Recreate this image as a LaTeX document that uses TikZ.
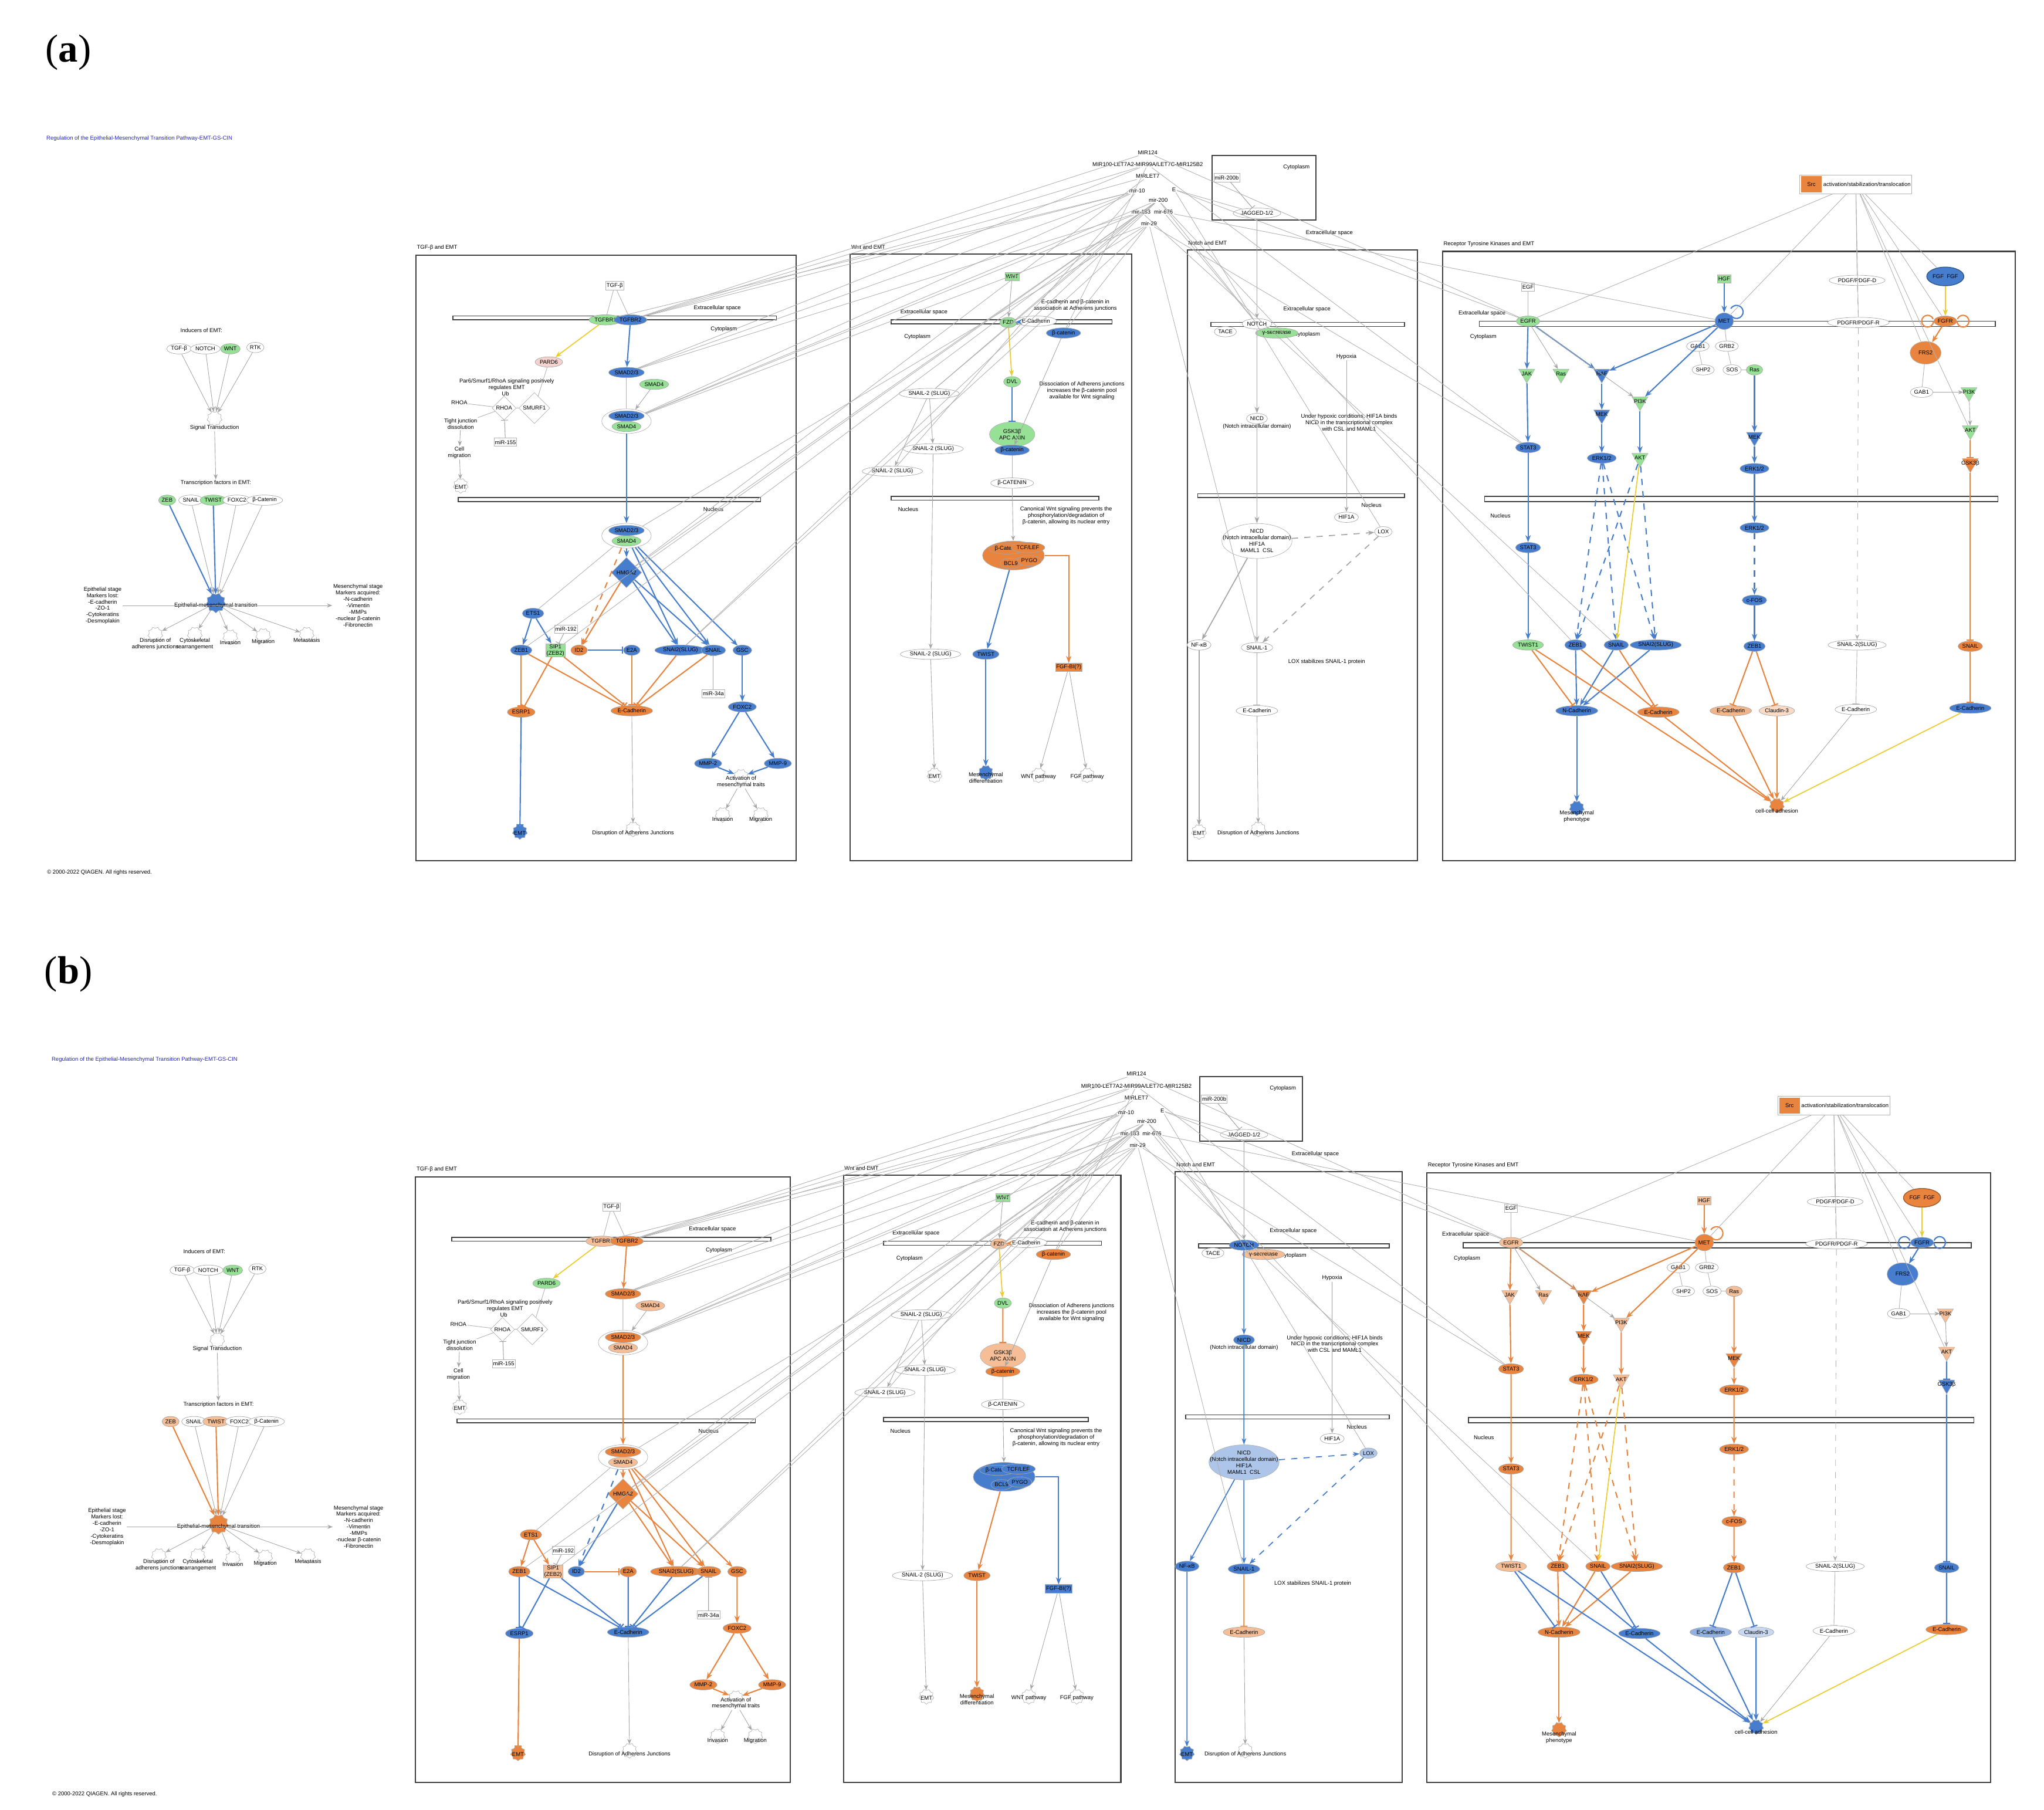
\documentclass[tikz,border=0pt]{standalone}
\usepackage{fontspec}
\setmainfont{Liberation Sans}
\newfontfamily\serifb{Liberation Serif}
\usetikzlibrary{shapes.geometric,arrows.meta}
\definecolor{bl}{RGB}{70,125,205}
\definecolor{or}{RGB}{232,132,62}
\definecolor{gr}{RGB}{150,225,150}
\definecolor{pk}{RGB}{245,210,205}
\definecolor{lbl}{RGB}{150,185,235}
\definecolor{lor}{RGB}{245,190,150}
\definecolor{yl}{RGB}{235,205,50}
\definecolor{ttlc}{RGB}{40,40,200}
\newcommand\ft{\fontsize{2.7}{3.1}\selectfont}
\tikzset{
 n/.style={ellipse,draw=gray!70,line width=.2pt,inner sep=.3pt,minimum width=8pt,minimum height=5pt,font=\ft,fill=white},
 fn/.style={star,star points=9,star point ratio=.82,draw=gray!60,line width=.2pt,inner sep=0pt,minimum size=6pt,fill=white},
 mi/.style={rectangle,draw=gray!60,line width=.2pt,inner sep=.4pt,minimum width=6pt,minimum height=4pt,font=\ft,fill=white},
 tri/.style={regular polygon,regular polygon sides=3,shape border rotate=180,draw=gray!60,line width=.2pt,inner sep=0pt,minimum size=9pt,label={[font=\ft,inner sep=0pt]center:#1}},
 t/.style={font=\ft,inner sep=.3pt,align=center},
 ttl/.style={font=\ft,text=ttlc,inner sep=0pt},
 box/.style={draw=gray!50!black,line width=.6pt},
 bar/.style={draw=gray!50!black,line width=.45pt,fill=white},
 e/.style={draw=gray!70,line width=.25pt,-{Stealth[length=.9mm,width=.7mm]}},
 g/.style={draw=gray!60,line width=.25pt},
 ep/.style={draw=\cP,line width=.6pt,-{Stealth[length=1.2mm,width=.9mm]}},
 es/.style={draw=\cS,line width=.6pt,-{Stealth[length=1.2mm,width=.9mm]}},
 ip/.style={draw=\cP,line width=.6pt,-{Bar[width=1.2mm]}},
 is/.style={draw=\cS,line width=.6pt,-{Bar[width=1.2mm]}},
 ig/.style={draw=gray!70,line width=.3pt,-{Bar[width=1.2mm]}},
 en/.style={draw=\cNe,line width=.5pt,-{Stealth[length=1.1mm,width=.8mm]}},
 yel/.style={draw=yl,line width=.5pt,-{Stealth[length=1.1mm,width=.8mm]}},
}
\newcommand\drawpanel{%
% ---------- header
\node[ttl,anchor=west] (title) at (35,105) {Regulation of the Epithelial-Mesenchymal Transition Pathway-EMT-GS-CIN};
\node[t,anchor=west] (copy) at (35,663) {\textcopyright{} 2000-2022 QIAGEN. All rights reserved.};
% ---------- left overview
\node[t] (ind) at (153,251) {Inducers of EMT:};
\node[n] (lTGF) at (136,265) {TGF-β};
\node[n] (lNOT) at (156,265) {NOTCH};
\node[n,fill=gr] (lWNT) at (175,265) {WNT};
\node[n] (lRTK) at (194,264) {RTK};
\node[fn] (sig) at (163,318) {};
\node[t] (sigt) at (163,325) {Signal Transduction};
\foreach \s in {lTGF,lNOT,lWNT,lRTK} \draw[e] (\s) -- (sig);
\node[t] (tf) at (164,367) {Transcription factors in EMT:};
\draw[e] (sigt) -- (tf);
\node[n,fill=\cG] (lZEB) at (127,380) {ZEB};
\node[n] (lSNA) at (145,380) {SNAIL};
\node[n,fill=\cG] (lTWI) at (162,380) {TWIST};
\node[n] (lFOX) at (180,380) {FOXC2};
\node[n] (lBC) at (201,380) {β-Catenin};
\node[fn,fill=\cP,minimum size=8pt] (emt) at (164,458) {};
\node[t] (emtt) at (164,460) {Epithelial-mesenchymal transition};
\draw[ep] (lZEB) -- (emt); \draw[ep] (lTWI) -- (emt);
\draw[e] (lSNA) -- (emt); \draw[e] (lFOX) -- (emt); \draw[e] (lBC) -- (emt);
\node[t] (epi) at (78,460) {Epithelial stage\\Markers lost:\\-E-cadherin\\-ZO-1\\-Cytokeratins\\-Desmoplakin};
\node[t] (mes) at (272,460) {Mesenchymal stage\\Markers acquired:\\-N-cadherin\\-Vimentin\\-MMPs\\-nuclear β-catenin\\-Fibronectin};
\draw[e] (epi.east) -- (mes.west);
\foreach \nm/\x/\y/\tx in {f1/118/482/{Disruption of\\adherens junctions},f2/148/482/{Cytoskeletal\\rearrangement},f3/175/484/Invasion,f4/200/483/Migration,f5/233/482/Metastasis}{
 \node[fn] (\nm) at (\x,\y) {};
 \node[t,anchor=north] (\nm t) at (\x,\y+2) {\tx};
 \draw[e] (emt) -- (\nm);}
% ---------- micro RNA hub
\node[t] (m124) at (872,116) {MIR124};
\node[t] (mlet) at (872,125) {MIR100-LET7A2-MIR99A/LET7C-MIR125B2};
\node[t] (mlt7) at (872,134) {MIRLET7};
\node[t] (m10) at (864,145) {mir-10};
\node[t] (m200) at (880,152) {mir-200};
\node[t] (m183) at (867,161) {mir-183};
\node[t] (m676) at (884,161) {mir-676};
\node[t] (m29) at (873,170) {mir-29};
\node[t] (mE) at (892,144) {E};
% ---------- TGF box
\draw[box] (316,194) rectangle (605,654);
\node[t,anchor=south west] (tgfT) at (316,191) {TGF-β and EMT};
\draw[bar] (344,240) rectangle (590,243);
\draw[bar] (348,378) rectangle (578,381);
\node[t] (tEx) at (545,234) {Extracellular space};
\node[t] (tCy) at (550,250) {Cytoplasm};
\node[t] (tNu) at (542,387) {Nucleus};
\node[mi] (tTGF) at (467,217) {TGF-β};
\node[n,fill=\cG] (tR1) at (460,243) {TGFBR1};
\node[n,fill=\cP] (tR2) at (479,243) {TGFBR2};
\draw[g] (tTGF) -- (tR1); \draw[g] (tTGF) -- (tR2);
\node[n,fill=\cH] (tPAR) at (417,275) {PARD6};
\draw[yel] (tR1) -- (tPAR);
\node[t] (tPtx) at (385,292) {Par6/Smurf1/RhoA signaling positively\\regulates EMT};
\node[t] (tRHO) at (349,306) {RHOA};
\node[diamond,draw=gray!60,line width=.2pt,inner sep=.5pt,font=\ft,fill=white] (tRH2) at (383,310) {RHOA};
\node[t] (tUb) at (384,299) {Ub};
\node[diamond,draw=gray!60,line width=.2pt,inner sep=.5pt,font=\ft,fill=white] (tSMU) at (406,310) {SMURF1};
\draw[g] (tPAR) -- (tSMU); \draw[g] (tSMU) -- (tRH2); \draw[g] (tRH2) -- (tRHO);
\node[mi] (t155) at (384,336) {miR-155};
\draw[ig] (t155) -- (tRH2);
\node[t] (tTJ) at (350,322) {Tight junction\\dissolution};
\draw[g] (tRH2) -- (tTJ);
\node[t] (tCM) at (349,344) {Cell\\migration};
\node[fn] (tEMT0) at (350,369) {};
\node[t] (tEMT0t) at (350,370) {EMT};
\draw[e] (tTJ) -- (tCM); \draw[e] (tCM) -- (tEMT0);
\node[n,fill=\cP] (tS23) at (476,283) {SMAD2/3};
\node[n,fill=\cG] (tS4) at (497,292) {SMAD4};
\node[ellipse,draw=gray!60,line width=.2pt,minimum width=24pt,minimum height=12pt,fill=white] (tSc) at (476,320) {};
\node[n,fill=\cP] (tSc1) at (476,316) {SMAD2/3};
\node[n,fill=\cG] (tSc2) at (476,324) {SMAD4};
\draw[ep] (tR2) -- (tS23);
\draw[g] (tS23) -- (tSc); \draw[e] (tS4) -- (tSc);
\node[ellipse,draw=gray!60,line width=.2pt,minimum width=24pt,minimum height=12pt,fill=white] (tSn) at (476,407) {};
\node[n,fill=\cP] (tSn1) at (476,403) {SMAD2/3};
\node[n,fill=\cG] (tSn2) at (476,411) {SMAD4};
\draw[ep] (tSc) -- (tSn);
\node[diamond,draw=gray!60,line width=.2pt,inner sep=.8pt,font=\ft,fill=\cP] (tHM) at (476,435) {HMGA2};
\draw[ep] (tSn) -- (tHM);
\node[n,fill=\cP] (tETS) at (405,466) {ETS1};
\node[n,fill=\cP] (tZ1) at (396,494) {ZEB1};
\node[rectangle,draw=gray!60,line width=.2pt,inner sep=.4pt,font=\ft,fill=\cG,align=center] (tSIP) at (422,494) {SIP1\\(ZEB2)};
\node[mi] (t192) at (430,478) {miR-192};
\node[n,fill=\cS] (tID2) at (440,494) {ID2};
\node[n,fill=\cP] (tE2A) at (480,494) {E2A};
\node[n,fill=\cP] (tSN2) at (517,494) {SNAI2\\(SLUG)};
\node[n,fill=\cP] (tSNA) at (542,494) {SNAIL};
\node[n,fill=\cP] (tGSC) at (564,494) {GSC};
\node[mi] (t34) at (542,527) {miR-34a};
\node[n,fill=\cP] (tFOX) at (564,537) {FOXC2};
\node[n,fill=\cS] (tESR) at (396,541) {ESRP1};
\node[n,fill=\cS] (tECA) at (480,540) {E-Cadherin};
\draw[g] (tSn) -- (tETS);
\draw[ep] (tETS) -- (tZ1); \draw[ep] (tETS) -- (tSIP);
\draw[ig] (t192) -- (tSIP);
\draw[es,dashed] (tSn) -- (tID2); \draw[es] (tHM) -- (tID2);
\draw[ip] (tID2) -- (tE2A);
\draw[ep] (tHM) -- (tSN2); \draw[ep] (tHM) -- (tSNA);
\draw[ep] (tSn) -- (tSN2); \draw[ep] (tSn) -- (tSNA); \draw[ep] (tSn) -- (tGSC);
\draw[ig] (t34) -- (tSNA);
\draw[ep] (tGSC) -- (tFOX);
\draw[is] (tZ1) -- (tESR); \draw[is] (tSIP) -- (tESR);
\foreach \s in {tZ1,tSIP,tE2A,tSN2,tSNA} \draw[is] (\s) -- (tECA);
\node[n,fill=\cP] (tMM2) at (538,580) {MMP-2};
\node[n,fill=\cP] (tMM9) at (591,580) {MMP-9};
\draw[ep] (tFOX) -- (tMM2); \draw[ep] (tFOX) -- (tMM9);
\node[fn] (tACT) at (563,590) {};
\node[t] (tACTt) at (563,594) {Activation of\\mesenchymal traits};
\draw[ep] (tMM2) -- (tACT); \draw[ep] (tMM9) -- (tACT);
\node[fn] (tINV) at (549,619) {}; \node[t,anchor=north] (tINVt) at (549,620) {Invasion};
\node[fn] (tMIG) at (578,619) {}; \node[t,anchor=north] (tMIGt) at (578,620) {Migration};
\draw[e] (tACTt) -- (tINV); \draw[e] (tACTt) -- (tMIG);
\node[fn,fill=\cP] (tEMT) at (395,632) {}; \node[t] (tEMTt) at (395,633) {EMT};
\draw[ip] (tESR) -- (tEMT);
\node[fn] (tDIS) at (481,630) {}; \node[t] (tDISt) at (481,633) {Disruption of Adherens Junctions};
\draw[e] (tECA) -- (tDIS);
% ---------- Wnt box
\draw[box] (646,193) rectangle (860,654);
\node[t,anchor=south west] (wT) at (646,190) {Wnt and EMT};
\draw[bar] (677,243) rectangle (845,246);
\draw[bar] (677,377) rectangle (835,380);
\node[t] (wEx) at (702,237) {Extracellular space};
\node[t] (wCy) at (697,256) {Cytoplasm};
\node[t] (wNu) at (690,387) {Nucleus};
\node[mi,fill=gr] (wWNT) at (769,210) {WNT};
\node[n,fill=\cG] (wFZD) at (766,245) {FZD};
\node[n,fill=white] (wEC) at (787,244) {E-Cadherin};
\node[n,fill=\cP] (wBC0) at (808,253) {β-catenin};
\node[t] (wtx1) at (817,232) {E-cadherin and β-catenin in\\association at Adherens junctions};
\draw[e] (wWNT) -- (wFZD);
\draw[ep] (wFZD) -- (wEC);
\node[n,fill=gr] (wDVL) at (769,290) {DVL};
\draw[yel] (wFZD) -- (wDVL);
\node[t] (wtx2) at (822,297) {Dissociation of Adherens junctions\\increases the β-catenin pool\\available for Wnt signaling};
\node[ellipse,draw=gray!60,line width=.2pt,minimum width=22pt,minimum height=12pt,fill=\cG] (wCX) at (769,330) {};
\node[t] (wCXt) at (769,330) {GSK3β\\APC AXIN};
\node[n,fill=\cP] (wBC1) at (769,342) {β-catenin};
\draw[ip] (wDVL) -- (wCX);
\draw[e] (wBC0) -- (wBC1);
\node[n] (wSL1) at (706,299) {SNAIL-2 (SLUG)};
\node[n] (wSL2) at (709,341) {SNAIL-2 (SLUG)};
\node[n] (wSL3) at (678,358) {SNAIL-2 (SLUG)};
\draw[e] (wSL1) -- (wSL2); \draw[e] (wSL1) -- (wSL3);
\node[n] (wBC2) at (769,367) {β-CATENIN};
\draw[g] (wBC1) -- (wBC2);
\node[t] (wtx3) at (810,392) {Canonical Wnt signaling prevents the\\phosphorylation/degradation of\\β-catenin, allowing its nuclear entry};
\node[ellipse,draw=gray!60,line width=.2pt,minimum width=30pt,minimum height=14pt,fill=\cS] (wTCF) at (770,422) {};
\node[n,fill=\cS] (wTC1) at (765,417) {β-Catenin};
\node[n,fill=\cS] (wTC2) at (781,416) {TCF/LEF};
\node[n,fill=\cS] (wTC3) at (768,428) {BCL9};
\node[n,fill=\cS] (wTC4) at (782,426) {PYGO};
\draw[e] (wBC2) -- (wTCF);
\node[n,fill=\cP] (wTW) at (749,497) {TWIST};
\node[mi,fill=\cS] (wFGF) at (812,507) {FGF-BI(?)};
\draw[ep] (wTCF) -- (wTW);
\draw[es] (wTCF.east) -| (wFGF);
\node[n] (wSL4) at (707,497) {SNAIL-2 (SLUG)};
\draw[e] (wSL2) -- (wSL4);
\node[fn] (wEMT) at (710,589) {}; \node[t] (wEMTt) at (710,590) {EMT};
\draw[e] (wSL4) -- (wEMT);
\node[fn,fill=\cP] (wMD) at (749,587) {}; \node[t] (wMDt) at (749,591) {Mesenchymal\\differentiation};
\draw[ep] (wTW) -- (wMD);
\node[fn] (wWP) at (789,589) {}; \node[t] (wWPt) at (789,590) {WNT pathway};
\node[fn] (wFP) at (826,589) {}; \node[t] (wFPt) at (826,590) {FGF pathway};
\draw[e] (wFGF) -- (wWP); \draw[e] (wFGF) -- (wFP);
% ---------- Notch box
\draw[box] (921,118) rectangle (1000,167);
\node[t] (nCyT) at (985,127) {Cytoplasm};
\node[mi] (n200) at (932,135) {miR-200b};
\node[n] (nJAG) at (955,162) {JAGGED-1/2};
\draw[ig] (n200) -- (nJAG);
\node[t] (nEx0) at (1010,177) {Extracellular space};
\draw[box] (902,190) rectangle (1077,654);
\node[t,anchor=south west] (nT) at (902,187) {Notch and EMT};
\draw[bar] (920,245) rectangle (1067,248);
\draw[bar] (910,375) rectangle (1067,378);
\node[t] (nEx) at (993,235) {Extracellular space};
\node[t] (nCy) at (993,254) {Cytoplasm};
\node[t] (nNu) at (1042,384) {Nucleus};
\node[n,fill=\cN] (nNOT) at (955,246) {NOTCH};
\node[n] (nTAC) at (931,252) {TACE};
\node[n,fill=\cG] (nGS) at (970,253) {γ-secretase};
\draw[e] (nJAG) -- (nNOT);
\node[t] (nHY) at (1023,271) {Hypoxia};
\node[n,fill=\cN] (nNICD) at (955,318) {NICD};
\node[t] (nNICDt) at (955,324) {(Notch intracellular domain)};
\draw[en] (nNOT) -- (nNICD);
\node[t] (nTx1) at (1025,321) {Under hypoxic conditions, HIF1A binds\\NICD in the transcriptional complex\\with CSL and MAML1};
\node[n] (nHIF) at (1023,393) {HIF1A};
\draw[e] (nHY) -- (nHIF);
\node[ellipse,draw=gray!60,line width=.2pt,minimum width=34pt,minimum height=17pt,fill=\cN!45] (nCX) at (955,411) {};
\node[t] (nCXt) at (955,411) {NICD\\(Notch intracellular domain)\\HIF1A\\MAML1 \ CSL};
\draw[en] (nNICD) -- (nCX);
\node[n,fill=\cN!45] (nLOX) at (1051,404) {LOX};
\draw[en,dashed] (nCX) -- (nLOX);
\node[n,fill=\cN] (nNFK) at (911,490) {NF-κB};
\node[n,fill=\cN] (nSN1) at (955,492) {SNAIL-1};
\draw[en] (nCX) -- (nNFK); \draw[en] (nCX) -- (nSN1);
\draw[en,dashed] (nLOX) -- (nSN1);
\node[t] (nTx2) at (1008,503) {LOX stabilizes SNAIL-1 protein};
\node[n,fill=\cNs] (nECA) at (955,540) {E-Cadherin};
\draw[draw=\cNi,line width=.5pt,-{Bar[width=1.2mm]}] (nSN1) -- (nECA);
\node[fn,fill=\cN] (nEMT) at (911,632) {}; \node[t] (nEMTt) at (911,633) {EMT};
\draw[en] (nNFK) -- (nEMT);
\node[fn] (nDIS) at (956,630) {}; \node[t] (nDISt) at (956,633) {Disruption of Adherens Junctions};
\draw[e] (nECA) -- (nDIS);
% ---------- RTK box
\draw[box] (1096,191) rectangle (1531,654);
\node[t,anchor=south west] (rT) at (1096,188) {Receptor Tyrosine Kinases and EMT};
\draw[bar] (1124,244) rectangle (1516,248);
\draw[bar] (1128,377) rectangle (1518,381);
\node[t] (rEx) at (1126,238) {Extracellular space};
\node[t] (rCy) at (1127,256) {Cytoplasm};
\node[t] (rNu) at (1140,392) {Nucleus};
\node[rectangle,draw=gray!60,line width=.2pt,fill=white,inner sep=.6pt,font=\ft] (rSRC) at (1410,140) {\colorbox{or}{\ft Src} activation/stabilization/translocation};
\node[mi] (rEGF) at (1161,218) {EGF};
\node[n,fill=\cG] (rEGFR) at (1161,244) {EGFR};
\draw[g] (rEGF) -- (rEGFR);
\node[mi,fill=\cG] (rHGF) at (1310,212) {HGF};
\node[n,fill=\cP,minimum width=8pt,minimum height=8pt] (rMET) at (1310,244) {MET};
\draw[ep] (rHGF) -- (rMET);
\draw[draw=\cP,line width=.6pt] (rMET.north east) arc (150:-150:5);
\node[n] (rPDG) at (1411,213) {PDGF/PDGF-D};
\node[n] (rPDR) at (1412,245) {PDGFR/PDGF-R};
\draw[g,dashed] (rPDG) -- (rPDR);
\node[ellipse,draw=\cP!70!black,line width=.4pt,fill=\cP,minimum width=18pt,minimum height=9pt,inner sep=0pt,font=\ft] (rFGF) at (1478,210) {FGF \ FGF};
\node[n,fill=\cS] (rFGR) at (1478,244) {FGFR};
\draw[yel] (rFGF) -- (rFGR);
\draw[draw=\cS,line width=.6pt] (rFGR.east) arc (180:-160:4.5);
\draw[draw=\cS,line width=.6pt] (rFGR.west) arc (0:340:4.5);
\node[ellipse,draw=gray!60,line width=.2pt,fill=\cS,minimum width=15pt,minimum height=11pt,inner sep=0pt,font=\ft] (rFRS) at (1463,268) {FRS2};
\draw[es] (rFGR) -- (rFRS);
\node[n] (rGAB) at (1290,263) {GAB1};
\node[n] (rGRB) at (1312,263) {GRB2};
\node[n] (rSHP) at (1294,281) {SHP2};
\node[n] (rSOS) at (1316,281) {SOS};
\node[n,fill=\cG] (rRas2) at (1333,281) {Ras};
\draw[g] (rMET) -- (rGAB); \draw[g] (rMET) -- (rGRB);
\draw[g] (rGRB) -- (rSOS); \draw[g] (rGAB) -- (rSHP); \draw[g] (rSOS) -- (rRas2);
\node[tri=JAK,fill=\cG] (rJAK) at (1160,284) {};
\node[tri=Ras,fill=\cG] (rRas1) at (1186,284) {};
\node[tri=RAF,fill=\cP] (rRAF) at (1217,284) {};
\node[tri=PI3K,fill=\cG] (rPI3) at (1246,305) {};
\draw[ep] (rEGFR) -- (rJAK); \draw[e] (rEGFR) -- (rRas1); \draw[ep] (rEGFR) -- (rRAF); \draw[e] (rEGFR) -- (rPI3);
\draw[ep] (rMET) -- (rRAF); \draw[ep] (rMET) -- (rPI3);
\node[tri=MEK,fill=\cP] (rMEK1) at (1217,315) {};
\node[n,fill=\cP] (rERK1) at (1217,348) {ERK1/2};
\node[tri=AKT,fill=\cG] (rAKT1) at (1246,348) {};
\draw[ep] (rRAF) -- (rMEK1); \draw[ep] (rMEK1) -- (rERK1); \draw[ep] (rPI3) -- (rAKT1);
\node[tri=MEK,fill=\cP] (rMEK2) at (1333,332) {};
\node[n,fill=\cP] (rERK2) at (1333,356) {ERK1/2};
\node[n,fill=\cP] (rERK3) at (1333,401) {ERK1/2};
\draw[ep] (rRas2) -- (rMEK2); \draw[ep] (rMEK2) -- (rERK2); \draw[ep] (rERK2) -- (rERK3);
\node[n,fill=\cP] (rST1) at (1161,340) {STAT3};
\node[n,fill=\cP] (rST2) at (1161,416) {STAT3};
\draw[ep] (rJAK) -- (rST1); \draw[ep] (rST1) -- (rST2);
\node[n] (rGAB2) at (1460,298) {GAB1};
\node[tri=PI3K,fill=\cG] (rPI32) at (1496,298) {};
\node[tri=AKT,fill=\cG] (rAKT2) at (1497,327) {};
\node[tri=GSK3β,fill=\cS] (rGSK) at (1497,352) {};
\draw[g] (rFRS) -- (rGAB2); \draw[e] (rGAB2) -- (rPI32); \draw[e] (rPI32) -- (rAKT2); \draw[is] (rAKT2) -- (rGSK);
\node[n,fill=\cP] (rFOS) at (1333,456) {c-FOS};
\node[n,fill=\cP] (rZEBr) at (1333,491) {ZEB1};
\draw[ep,dashed] (rERK3) -- (rFOS); \draw[ep] (rFOS) -- (rZEBr);
\node[n,fill=\cG] (rTW) at (1161,490) {TWIST1};
\draw[ep] (rST2) -- (rTW);
\node[n,fill=\cP] (rZ) at (1197,490) {ZEB1};
\node[n,fill=\cP] (rSN) at (1228,490) {SNAIL};
\node[n,fill=\cP] (rSL) at (1258,490) {SNAI2\\(SLUG)};
\draw[ep,dashed] (rERK1) -- (rZ); \draw[ep,dashed] (rERK1) -- (rSN); \draw[ep,dashed] (rERK1) -- (rSL);
\draw[ep,dashed] (rAKT1) -- (rZ); \draw[ep,dashed] (rAKT1) -- (rSL);
\draw[yel] (rAKT1) -- (rSN);
\node[n] (rSL2) at (1411,490) {SNAIL-2\\(SLUG)};
\draw[g,dashed,-{Stealth[length=.9mm,width=.7mm]}] (rPDR) -- (rSL2);
\node[n,fill=\cS] (rSNr) at (1497,491) {SNAIL};
\draw[is] (rGSK) -- (rSNr);
\node[n,fill=\cP] (rNC) at (1198,540) {N-Cadherin};
\node[n,fill=\cS] (rEC1) at (1260,541) {E-Cadherin};
\node[n,fill=\cS!60] (rEC2) at (1315,540) {E-Cadherin};
\node[n,fill=\cS!30] (rCL) at (1350,540) {Claudin-3};
\node[n] (rEC3) at (1410,539) {E-Cadherin};
\node[n,fill=\cP] (rEC4) at (1497,538) {E-Cadherin};
\draw[ep] (rZ) -- (rNC); \draw[ep] (rSN) -- (rNC); \draw[ep] (rSL) -- (rNC);
\draw[is] (rZ) -- (rEC1); \draw[is] (rSN) -- (rEC1); \draw[is] (rTW) -- (rNC);
\draw[is] (rZEBr) -- (rEC2); \draw[is] (rZEBr) -- (rCL);
\draw[g,-{Bar[width=1.2mm]}] (rSL2) -- (rEC3);
\draw[is] (rSNr) -- (rEC4);
\node[fn,fill=\cP] (rMP) at (1198,614) {}; \node[t,anchor=north] (rMPt) at (1198,615) {Mesenchymal\\phenotype};
\draw[ep] (rNC) -- (rMP);
\node[fn,fill=\cS] (rCCA) at (1350,612) {}; \node[t] (rCCAt) at (1350,616) {cell-cell adhesion};
\draw[es] (rEC1) -- (rCCA); \draw[es] (rEC2) -- (rCCA); \draw[es] (rCL) -- (rCCA);
\draw[e] (rEC3) -- (rCCA); \draw[yel] (rEC4) -- (rCCA); \draw[es] (rTW) -- (rCCA);
% Src lines
\foreach \s in {rFGF,rFGR,rPDG,rPDR,rFRS,rMET,rEGFR,rAKT2} \draw[g] (rSRC) -- (\s);
% ---------- miRNA lines
\foreach \a/\b in {m124/tR2,mlet/tR2,mlt7/tR2,m10/tR2,mlet/tS23,m10/tS23,m183/tS23,m29/tSc,m183/tSc,m10/tSc,m200/tSc,m29/tSn,m183/tHM,mlt7/tHM,m200/tSIP,m29/tSN2,m200/tSN2,m200/tZ1,m10/tR1,mlet/wBC0,m29/wBC0,m183/wSL1,m200/wSL1,m10/wSL3,mE/nJAG,m676/nNOT,m200/nNOT,mE/rEGFR,m124/rEGFR,mlet/rST1,m29/rST1,m200/rZ,m183/rSN,m676/rMET,mE/nLOX,m29/nSN1}
 \draw[g] (\a) -- (\b);
}
\begin{document}
\begin{tikzpicture}[x=0.022434cm,y=-0.022434cm]
\useasboundingbox (0,0) rectangle (1553,1375);
\fill[white] (0,0) rectangle (1553,1375);
\node[font=\serifb\fontsize{19}{22}\selectfont,inner sep=0pt] (la) at (52,40) {(\textbf{a})};
\node[font=\serifb\fontsize{19}{22}\selectfont,inner sep=0pt] (lb) at (52,740) {(\textbf{b})};
\begin{scope}[name prefix=a-]
\def\cP{bl}\def\cS{or}\def\cG{gr}\def\cH{pk}\def\cN{white}\def\cNe{gray!70}\def\cNs{white}\def\cNi{gray!70}
\drawpanel
\end{scope}
\begin{scope}[name prefix=b-,shift={(4.5,700)},xscale=0.985]
\def\cP{or}\def\cS{bl}\def\cG{lor}\def\cH{gr}\def\cN{bl}\def\cNe{bl}\def\cNs{lor}\def\cNi{or}
\drawpanel
\end{scope}
\end{tikzpicture}
\end{document}
